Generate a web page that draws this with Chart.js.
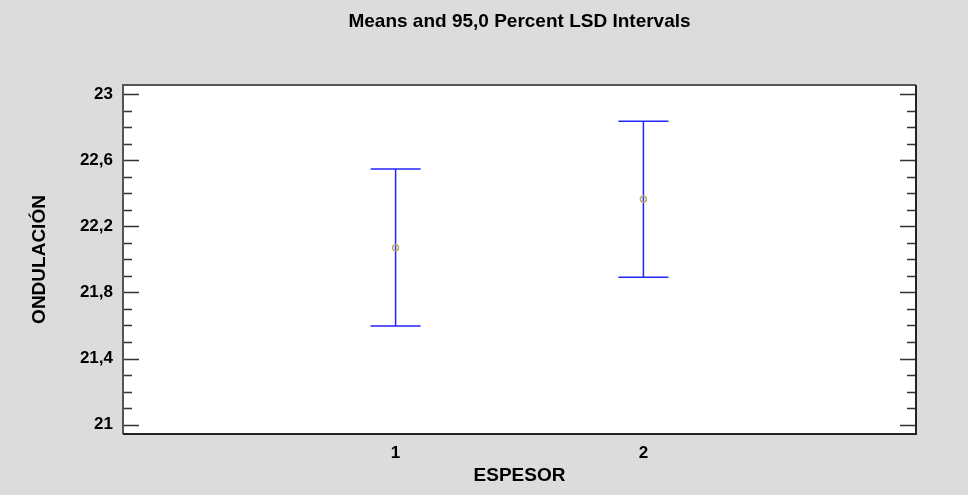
<!DOCTYPE html>
<html>
<head>
<meta charset="utf-8">
<script src="https://cdn.jsdelivr.net/npm/chart.js@4.4.0/dist/chart.umd.min.js"></script>
<style>
  body{margin:0;background:#dcdcdc}
  #c{display:block}
</style>
</head>
<body>
<canvas id="c" width="968" height="495"></canvas>
<script>
// ESPESOR levels and LSD intervals for ONDULACIÓN
const levels = [1, 2];
const means = [22.07, 22.364];
const lower = [21.597, 21.892];
const upper = [22.548, 22.836];

const xTicks = [1, 2];
const xTickLabels = ['1', '2'];
const yTicks = [21, 21.4, 21.8, 22.2, 22.6, 23];
const yTickLabels = ['21', '21,4', '21,8', '22,2', '22,6', '23'];
const chartTitle = 'Means and 95,0 Percent LSD Intervals';

const FONT = '"Liberation Sans", Arial, sans-serif';

// grey page, white plot, frame, inside ticks and the title over the plot
const framePlugin = {
  id: 'frame',
  beforeDraw(chart){
    const {ctx, chartArea:a} = chart;
    ctx.save();
    ctx.fillStyle = '#dcdcdc';
    ctx.fillRect(0, 0, chart.width, chart.height);
    ctx.fillStyle = '#ffffff';
    ctx.fillRect(a.left, a.top, a.right - a.left, a.bottom - a.top);
    ctx.fillStyle = '#000';
    ctx.font = 'bold 19px ' + FONT;
    ctx.textAlign = 'center';
    ctx.textBaseline = 'middle';
    ctx.fillText(chartTitle, (a.left + a.right) / 2, 22);
    ctx.restore();
  },
  afterDatasetsDraw(chart){
    const {ctx, chartArea:a, scales} = chart;
    const y = scales.y;
    ctx.save();
    ctx.lineWidth = 1.5;
    ctx.strokeStyle = '#333';
    for(let i=0;i<=20;i++){
      const v = 21 + i*0.1;
      const py = Math.round(y.getPixelForValue(v)) + 0.5;
      const len = (i % 4 === 0) ? 16 : 9;
      ctx.beginPath();
      ctx.moveTo(a.left, py); ctx.lineTo(a.left + len, py);
      ctx.moveTo(a.right, py); ctx.lineTo(a.right - len, py);
      ctx.stroke();
    }
    ctx.lineWidth = 2;
    ctx.strokeStyle = '#555';
    ctx.beginPath();
    ctx.moveTo(a.left, a.bottom); ctx.lineTo(a.left, a.top); ctx.lineTo(a.right, a.top);
    ctx.stroke();
    ctx.strokeStyle = '#222';
    ctx.beginPath();
    ctx.moveTo(a.left, a.bottom); ctx.lineTo(a.right, a.bottom); ctx.lineTo(a.right, a.top);
    ctx.stroke();
    ctx.restore();
  }
};

// vertical interval lines with caps
const errorBars = {
  id: 'errorBars',
  beforeDatasetsDraw(chart){
    const {ctx, scales:{x, y}} = chart;
    ctx.save();
    ctx.strokeStyle = '#2424ff';
    ctx.lineWidth = 1.5;
    levels.forEach((lv, i)=>{
      const px = x.getPixelForValue(lv);
      const top = y.getPixelForValue(upper[i]);
      const bot = y.getPixelForValue(lower[i]);
      ctx.beginPath();
      ctx.moveTo(px, top); ctx.lineTo(px, bot);
      ctx.moveTo(px - 25, top); ctx.lineTo(px + 25, top);
      ctx.moveTo(px - 25, bot); ctx.lineTo(px + 25, bot);
      ctx.stroke();
    });
    ctx.restore();
  }
};

new Chart(document.getElementById('c'), {
  type: 'scatter',
  data: {
    datasets: [{
      data: levels.map((lv, i)=>({x: lv, y: means[i]})),
      pointStyle: 'circle',
      pointRadius: 3,
      borderColor: '#b3ad66',
      backgroundColor: 'rgba(0,0,0,0)',
      borderWidth: 1.5
    }]
  },
  options: {
    responsive: false,
    animation: false,
    layout: {padding: {left: 0, right: 52, top: 85, bottom: 0}},
    plugins: {
      legend: {display: false},
      tooltip: {enabled: false},
      title: {display: false}
    },
    scales: {
      x: {
        type: 'linear',
        min: -0.1, max: 3.1,
        grid: {display: false, drawTicks: false},
        border: {display: false},
        afterBuildTicks(s){ s.ticks = xTicks.map(v=>({value: v})); },
        afterFit(s){ s.height = 61; },
        ticks: {
          padding: 9,
          color: '#000',
          font: {family: FONT, size: 17, weight: 'bold'},
          callback: (v)=>xTickLabels[xTicks.indexOf(v)]
        },
        title: {
          display: true, text: 'ESPESOR', color: '#000',
          font: {family: FONT, size: 19, weight: 'bold'},
          padding: {top: 0, bottom: 8}
        }
      },
      y: {
        min: 20.943, max: 23.056,
        grid: {display: false, drawTicks: false},
        border: {display: false},
        afterBuildTicks(s){ s.ticks = yTicks.map(v=>({value: v})); },
        afterFit(s){ s.width = 123; },
        ticks: {
          padding: 10,
          color: '#000',
          font: {family: FONT, size: 17, weight: 'bold'},
          callback: (v)=>yTickLabels[yTicks.indexOf(v)]
        },
        title: {
          display: true, text: 'ONDULACIÓN', color: '#000',
          font: {family: FONT, size: 19, weight: 'bold'},
          padding: {top: 28, bottom: 0}
        }
      }
    }
  },
  plugins: [framePlugin, errorBars]
});
</script>
</body>
</html>
